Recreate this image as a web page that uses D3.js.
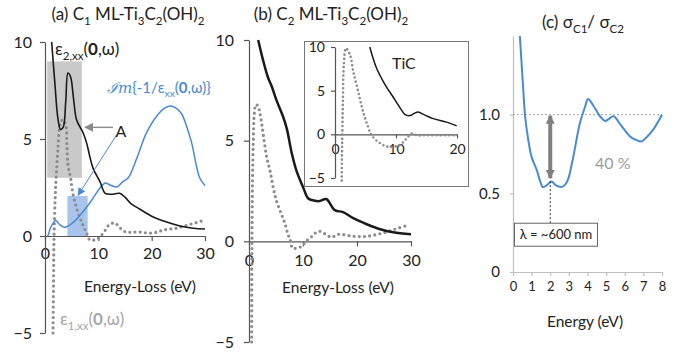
<!DOCTYPE html>
<html>
<head>
<meta charset="utf-8">
<script src="https://cdn.jsdelivr.net/npm/d3@7"></script>
<style>
  body { margin: 0; background: #fff; }
  svg { font-family: Lato, "Open Sans", sans-serif; }
</style>
</head>
<body>
<div id="chart"></div>
<script>
// ---- data ----
// (a) C1 ML-Ti3C2(OH)2 : [energy-loss eV, value]
const eps2A = [[1.25,10],[1.9,7.7],[2.4,6.1],[2.9,5.5],[3.4,5.6],[3.9,7.0],[4.3,8.4],[4.8,8.2],[5.3,7.2],[5.9,6.0],[6.6,5.6],[7.1,5.35],[7.8,4.8],[8.4,4.1],[9.0,3.5],[10.3,2.8],[11.3,2.2],[12.5,2.15],[14,2.2],[15,2.0],[16,1.7],[17.8,1.38],[20.3,0.98],[22.8,0.72],[25.3,0.52],[27.8,0.4],[30,0.36]];
const eps1A = [[1.5,-5],[1.6,-2.3],[1.7,0],[1.9,1.9],[2.1,3.1],[2.4,4.4],[2.8,5.7],[3.3,6.0],[3.9,5.7],[4.1,4.7],[4.3,3.7],[4.8,3.0],[5.3,2.1],[6.2,1.2],[7.1,0.57],[7.8,0.15],[8.4,-0.2],[9.4,-0.2],[10.1,-0.1],[11.3,0.3],[12,0.57],[13.1,0.67],[14.1,0.41],[15.2,0.2],[16.5,0.2],[18,0.2],[19.5,0.15],[21,0.2],[22.1,0.3],[23.4,0.36],[24.7,0.4],[25.9,0.5],[27.2,0.6],[28.5,0.7],[29.6,0.8]];
const lossA = [[0.4,0],[0.6,0.05],[1.0,0.4],[1.5,0.65],[2.0,0.8],[2.8,0.57],[3.75,0.45],[5.3,0.7],[6.6,1.08],[8.4,1.7],[10.3,2.47],[11.3,2.73],[12.2,2.63],[13.5,2.53],[14.6,2.8],[15.6,3.0],[17.2,4.0],[19,5.3],[21,6.2],[22.5,6.6],[23.6,6.7],[24.5,6.6],[25.6,6.3],[26.5,5.7],[27.5,4.8],[29,3.0],[30,2.6]];
const boxGreyA = [0.4, 6.9, 3, 9];     // x0, x1, y0, y1
const boxBlueA = [4.2, 8.0, 0, 2.06];

// (b) C2 ML-Ti3C2(OH)2
const eps2B = [[1.7,10],[2.6,9.0],[3.5,8.15],[4.2,7.7],[5.1,7.0],[6.3,6.2],[7.0,5.6],[7.9,4.4],[8.8,3.5],[10.0,2.7],[10.9,2.15],[11.6,2.05],[13.1,2.0],[14.3,2.1],[15.9,1.55],[17.4,1.45],[19.3,1.15],[21.8,0.85],[24.3,0.6],[26.7,0.45],[30,0.35]];
const eps1B = [[0.5,-5],[0.52,-2],[0.55,0],[0.65,3],[0.8,5],[1.0,6.4],[1.3,6.8],[1.7,6.7],[2.0,6.4],[2.35,5.85],[2.8,5.0],[3.3,4.15],[3.9,3.5],[4.5,2.65],[5.1,2.0],[6.0,1.35],[6.7,0.85],[7.2,0.35],[7.6,0.1],[8.1,-0.35],[9.1,-0.3],[9.8,-0.25],[10.5,0],[11.3,0.15],[12.2,0.4],[13.1,0.5],[14.2,0.35],[15.3,0.2],[16.5,0.35],[19.3,0.25],[21.8,0.25],[24.6,0.4],[27,0.6],[29.4,0.8]];

// inset: TiC
const eps2TiC = [[5.7,10],[6.8,7.6],[8.2,5.7],[9.5,4.3],[10.7,3.0],[11.5,2.25],[12.3,2.15],[13.0,2.4],[13.6,2.55],[14.75,2.2],[16.1,1.8],[18.3,1.4],[19.95,0.97]];
const eps1TiC = [[1.1,-5.3],[1.15,-2],[1.2,0],[1.3,4],[1.45,8],[1.8,9.85],[2.46,9.1],[3.0,7.2],[3.8,4.9],[4.6,2.6],[5.4,0.9],[6.0,-0.1],[7.05,-0.85],[8.5,-1.4],[9.8,-1.4],[10.7,-1.2],[11.5,-0.65],[12.6,0.1],[13.4,-0.1],[15,-0.1],[17.5,-0.1],[20,-0.1]];

// (c) sigma_C1 / sigma_C2 vs energy (eV)
const ratioC = [[0.37,1.5],[0.55,1.16],[0.65,0.99],[0.82,0.84],[1.0,0.73],[1.27,0.65],[1.45,0.58],[1.6,0.54],[1.8,0.55],[2.07,0.575],[2.3,0.55],[2.6,0.54],[2.8,0.555],[2.96,0.59],[3.2,0.71],[3.6,0.95],[3.87,1.05],[4.03,1.1],[4.3,1.06],[4.67,0.99],[4.95,0.96],[5.4,0.99],[5.75,0.94],[6.3,0.86],[6.6,0.84],[6.9,0.83],[7.2,0.86],[7.5,0.9],[8.0,1.0]];
const arrowC = { x: 2.0, top: 1.0, bottom: 0.59, boxTop: 0.31 };

const ticksAB = [-5, 0, 5, 10];
const ticksXAB = [0, 10, 20, 30];
const ticksXInset = [0, 10, 20];
const ticksXC = [0, 1, 2, 3, 4, 5, 6, 7, 8];
const ticksYC = [0, 0.5, 1.0];

// ---- drawing ----
const W = 685, H = 352;
const BLACK = "#1a1a1a", BLUE = "#4a89d6", DOTS = "#8c8c8c";

const svg = d3.select("#chart").append("svg")
  .attr("width", W).attr("height", H);

const defs = svg.append("defs");
function head(id, color, size) {
  defs.append("marker").attr("id", id)
    .attr("viewBox", "0 0 10 10").attr("refX", 9).attr("refY", 5)
    .attr("markerWidth", size).attr("markerHeight", size)
    .attr("markerUnits", "userSpaceOnUse")
    .attr("orient", "auto-start-reverse")
    .append("path").attr("d", "M0,0 L10,5 L0,10 z").attr("fill", color);
}
head("hGrey", "#8a8a8a", 9);
head("hBlue", BLUE, 8);
head("hThick", "#808080", 9);

// text with sub-scripts / bold pieces
function rich(sel, x, y, parts, size, color, anchor) {
  const t = sel.append("text").attr("x", x).attr("y", y)
    .attr("font-size", size).attr("fill", color || "#222")
    .attr("text-anchor", anchor || "start");
  let shift = 0;
  parts.forEach(p => {
    const s = typeof p === "string" ? p : p[0];
    const kind = typeof p === "string" ? null : p[1];
    const want = kind === "sub" ? size * 0.28 : 0;
    const ts = t.append("tspan").text(s).attr("dy", want - shift);
    shift = want;
    if (kind === "sub") ts.attr("font-size", size * 0.68);
    if (kind === "b") ts.attr("font-weight", "bold");
    if (kind === "i") ts.attr("font-style", "italic").attr("font-family", "DejaVu Serif, serif");
  });
  return t;
}

function styleAxis(g, color, fs) {
  g.select(".domain").attr("stroke", color).attr("stroke-width", 1.2);
  g.selectAll(".tick line").attr("stroke", color).attr("stroke-width", 1.2);
  g.selectAll(".tick text").attr("fill", "#222").attr("font-size", fs)
    .attr("font-family", "Lato, 'Open Sans', sans-serif");
}

function drawLine(g, data, x, y, color, width, dotted) {
  const line = d3.line().x(d => x(d[0])).y(d => y(d[1]))
    .curve(d3.curveCatmullRom.alpha(0.5));
  const p = g.append("path").datum(data).attr("d", line)
    .attr("fill", "none").attr("stroke", color);
  if (dotted) {
    p.attr("stroke-width", 3.2).attr("stroke-dasharray", "0 5.2")
      .attr("stroke-linecap", "round");
  } else {
    p.attr("stroke-width", width).attr("stroke-linejoin", "round");
  }
  return p;
}

// ===== panel (a) =====
const xA = d3.scaleLinear().domain([0, 30]).range([45, 205]);
const yA = d3.scaleLinear().domain([-5, 10]).range([333, 42]);
const gA = svg.append("g");

gA.append("rect")
  .attr("x", xA(boxGreyA[0])).attr("width", xA(boxGreyA[1]) - xA(boxGreyA[0]))
  .attr("y", yA(boxGreyA[3])).attr("height", yA(boxGreyA[2]) - yA(boxGreyA[3]))
  .attr("fill", "#c9c9c9");
gA.append("rect")
  .attr("x", xA(boxBlueA[0])).attr("width", xA(boxBlueA[1]) - xA(boxBlueA[0]))
  .attr("y", yA(boxBlueA[3])).attr("height", yA(boxBlueA[2]) - yA(boxBlueA[3]))
  .attr("fill", "#a8c4ec");

const axAx = gA.append("g").attr("transform", `translate(0,${yA(0)})`)
  .call(d3.axisBottom(xA).tickValues(ticksXAB).tickSize(5).tickSizeOuter(0).tickPadding(7));
styleAxis(axAx, "#555", 16);
const axAy = gA.append("g").attr("transform", `translate(${xA(0)},0)`)
  .call(d3.axisLeft(yA).tickValues(ticksAB).tickSize(5).tickSizeOuter(0).tickPadding(8));
styleAxis(axAy, "#555", 16);

drawLine(gA, eps1A, xA, yA, DOTS, 0, true);
drawLine(gA, lossA, xA, yA, BLUE, 1.5);
drawLine(gA, eps2A, xA, yA, BLACK, 1.6);

// annotations (a)
gA.append("line").attr("x1", xA(12.75)).attr("y1", yA(5.6)).attr("x2", xA(7.5)).attr("y2", yA(5.6))
  .attr("stroke", "#8a8a8a").attr("stroke-width", 1.4).attr("marker-end", "url(#hGrey)");
gA.append("line").attr("x1", xA(13.4)).attr("y1", yA(5.2)).attr("x2", xA(6.2)).attr("y2", yA(2.1))
  .attr("stroke", BLUE).attr("stroke-width", 1).attr("marker-end", "url(#hBlue)");
gA.append("text").attr("x", 121).attr("y", 137).attr("text-anchor", "middle")
  .attr("font-size", 16).attr("fill", "#222").text("A");
rich(gA, 55, 55, ["ε", ["2,xx", "sub"], "(", ["0", "b"], ",ω)"], 17, "#222");
rich(gA, 107, 93, [["ℐm", "i"], "{-1/ε", ["xx", "sub"], "(", ["0", "b"], ",ω)}"], 15, BLUE);
rich(gA, 60, 325, ["ε", ["1,xx", "sub"], "(", ["0", "b"], ",ω)"], 17, "#a6a6a6");

rich(svg, 128, 20, ["(a) C", ["1", "sub"], " ML-Ti", ["3", "sub"], "C", ["2", "sub"], "(OH)", ["2", "sub"]], 17, "#222", "middle");
svg.append("text").attr("x", 140).attr("y", 292).attr("text-anchor", "middle")
  .attr("font-size", 15.5).attr("fill", "#222").text("Energy-Loss (eV)");

// ===== panel (b) =====
const xB = d3.scaleLinear().domain([0, 30]).range([249, 411]);
const yB = d3.scaleLinear().domain([-5, 10]).range([342, 40]);
const gB = svg.append("g");

const axBx = gB.append("g").attr("transform", `translate(0,${yB(0)})`)
  .call(d3.axisBottom(xB).tickValues(ticksXAB).tickSize(5).tickSizeOuter(0).tickPadding(8));
styleAxis(axBx, "#555", 16);
const axBy = gB.append("g").attr("transform", `translate(${xB(0)},0)`)
  .call(d3.axisLeft(yB).tickValues(ticksAB).tickSize(5).tickSizeOuter(0).tickPadding(10));
styleAxis(axBy, "#555", 16);

drawLine(gB, eps1B, xB, yB, DOTS, 0, true);
drawLine(gB, eps2B, xB, yB, BLACK, 2.5);

rich(svg, 331, 20, ["(b) C", ["2", "sub"], " ML-Ti", ["3", "sub"], "C", ["2", "sub"], "(OH)", ["2", "sub"]], 17, "#222", "middle");
svg.append("text").attr("x", 338).attr("y", 293).attr("text-anchor", "middle")
  .attr("font-size", 15.5).attr("fill", "#222").text("Energy-Loss (eV)");

// inset TiC
const gI = svg.append("g");
gI.append("rect").attr("x", 304.5).attr("y", 41.5).attr("width", 164).attr("height", 145)
  .attr("fill", "#fff").attr("stroke", "#777").attr("stroke-width", 1);
const xI = d3.scaleLinear().domain([0, 20]).range([335, 457]);
const yI = d3.scaleLinear().domain([-5, 10]).range([178, 47]);
const axIx = gI.append("g").attr("transform", `translate(0,${yI(0)})`)
  .call(d3.axisBottom(xI).tickValues(ticksXInset).tickSize(4).tickSizeOuter(0).tickPadding(6));
styleAxis(axIx, "#555", 14);
const axIy = gI.append("g").attr("transform", `translate(${xI(0)},0)`)
  .call(d3.axisLeft(yI).tickValues(ticksAB).tickSize(4).tickSizeOuter(0).tickPadding(6));
styleAxis(axIy, "#555", 14);
drawLine(gI, eps1TiC, xI, yI, DOTS, 0, true).attr("stroke-width", 2.6).attr("stroke-dasharray", "0 4.2");
drawLine(gI, eps2TiC, xI, yI, BLACK, 1.5);
gI.append("text").attr("x", 392).attr("y", 69).attr("font-size", 16).attr("fill", "#222").text("TiC");

// ===== panel (c) =====
const xC = d3.scaleLinear().domain([0, 8]).range([513, 662]);
const yC = d3.scaleLinear().domain([0, 1.5]).range([272, 36]);
const gC = svg.append("g");

const axCx = gC.append("g").attr("transform", `translate(0,${yC(0)})`)
  .call(d3.axisBottom(xC).tickValues(ticksXC).tickSize(4).tickSizeOuter(0).tickPadding(6));
styleAxis(axCx, "#bfbfbf", 13);
const axCy = gC.append("g").attr("transform", `translate(${xC(0)},0)`)
  .call(d3.axisLeft(yC).tickValues(ticksYC).tickSize(3).tickSizeOuter(0).tickPadding(10)
    .tickFormat(d => d === 0 ? "0" : d3.format(".1f")(d)));
styleAxis(axCy, "#bfbfbf", 15);

gC.append("line").attr("x1", xC(0)).attr("x2", xC(8)).attr("y1", yC(1)).attr("y2", yC(1))
  .attr("stroke", "#8c8c8c").attr("stroke-width", 0.8).attr("stroke-dasharray", "2 2");

drawLine(gC, ratioC, xC, yC, BLUE, 2);

gC.append("line").attr("x1", xC(arrowC.x)).attr("x2", xC(arrowC.x))
  .attr("y1", yC(arrowC.top) + 1).attr("y2", yC(arrowC.bottom) - 1)
  .attr("stroke", "#808080").attr("stroke-width", 4)
  .attr("marker-start", "url(#hThick)").attr("marker-end", "url(#hThick)");
gC.append("line").attr("x1", xC(arrowC.x)).attr("x2", xC(arrowC.x))
  .attr("y1", yC(arrowC.bottom) + 2).attr("y2", yC(arrowC.boxTop))
  .attr("stroke", "#333").attr("stroke-width", 1).attr("stroke-dasharray", "2 2");
gC.append("rect").attr("x", 514.5).attr("y", yC(arrowC.boxTop)).attr("width", 83).attr("height", 23)
  .attr("fill", "#fff").attr("stroke", "#666").attr("stroke-width", 1);
gC.append("text").attr("x", 556).attr("y", yC(arrowC.boxTop) + 16).attr("text-anchor", "middle")
  .attr("font-size", 13).attr("fill", "#222").text("λ = ~600 nm");
gC.append("text").attr("x", 595).attr("y", 169).attr("font-size", 16).attr("fill", "#9a9a9a").text("40 %");

rich(svg, 583, 28, ["(c) σ", ["C1", "sub"], "/ σ", ["C2", "sub"]], 17, "#222", "middle");
svg.append("text").attr("x", 585).attr("y", 327).attr("text-anchor", "middle")
  .attr("font-size", 15.5).attr("fill", "#222").text("Energy (eV)");
</script>
</body>
</html>
